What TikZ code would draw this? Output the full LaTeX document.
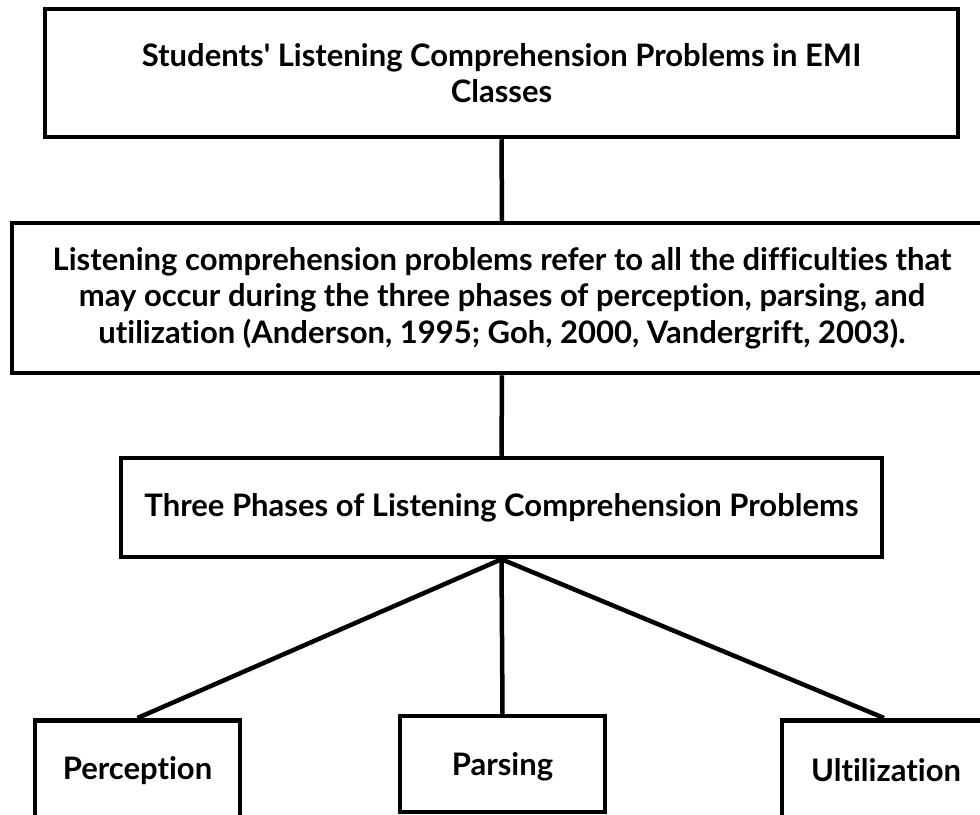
\documentclass[tikz,border=0pt]{standalone}
\usepackage{fontspec}
\setmainfont{Lato}[Ligatures={NoCommon,TeX}]
\begin{document}
\begin{tikzpicture}[x=1pt,y=-1pt,
  label font/.style={font=\bfseries\fontsize{31}{36.5}\selectfont},
  box/.style={draw=black, line width=4.5pt, rectangle, inner sep=0pt,
    align=center, label font},
  link/.style={draw=black, line width=4.5pt}]
  \useasboundingbox (0,0) rectangle (980,814);
  \clip (0,0) rectangle (980,814);
  \fill[white] (0,0) rectangle (980,814);

  % main title
  \node[box, minimum width=913pt, minimum height=128pt] (title) at (501.5,73)
    {Students\textquotesingle{} Listening Comprehension Problems in EMI\\Classes};
  % definition
  \node[box, minimum width=980pt, minimum height=150pt] (defn) at (502,298)
    {Listening comprehension problems refer to all the difficulties that\\
     may occur during the three phases of perception, parsing, and\\
     utilization (Anderson, 1995; Goh, 2000, Vandergrift, 2003).};
  % phases heading
  \node[box, minimum width=761pt, minimum height=99pt] (phases) at (501.5,507.5)
    {Three Phases of Listening Comprehension Problems};
  % the three phases (the outer two run past the lower edge)
  \node[box, minimum width=205pt, minimum height=208pt, anchor=north] (perc) at (137.5,718)
    {};
  \node[label font] (perct) at (137.5,771) {Perception};
  \node[box, minimum width=205pt, minimum height=96pt] (pars) at (502.5,764)
    {};
  \node[label font] (parst) at (502.5,767) {Parsing};
  \node[box, minimum width=204pt, minimum height=208pt, anchor=north] (util) at (884,718)
    {};
  \node[label font] (utilt) at (886,770) {Ultilization};

  % connectors
  \draw[link] (title.south) -- (defn.north);
  \draw[link] (defn.south) -- (phases.north);
  \draw[link] (phases.south) -- (perc.north);
  \draw[link] (phases.south) -- (pars.north);
  \draw[link] (phases.south) -- (util.north);
\end{tikzpicture}
\end{document}
